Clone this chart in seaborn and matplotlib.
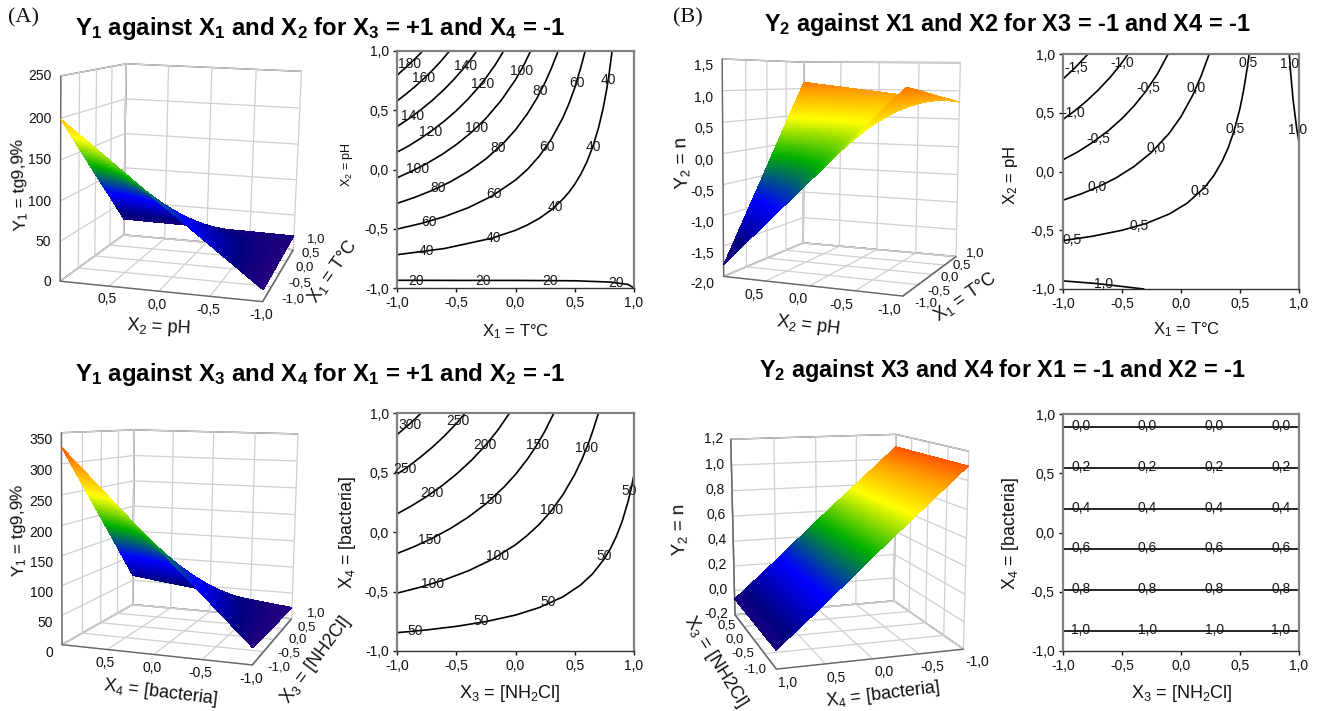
import numpy as np
import pandas as pd
import matplotlib
matplotlib.use('Agg')
import matplotlib.pyplot as plt
import seaborn as sns
from matplotlib.colors import LinearSegmentedColormap, Normalize

sns.set_theme(style='white')
plt.rcParams['font.family'] = ['Liberation Sans', 'DejaVu Sans']
plt.rcParams['mathtext.default'] = 'regular'
plt.rcParams['axes.unicode_minus'] = False

W, H = 1319, 711
ticks5 = [-1.0, -0.5, 0.0, 0.5, 1.0]
ticks5_lab = ['-1,0', '-0,5', '0,0', '0,5', '1,0']

# surface values, rows = second factor, columns = first factor
a1_z = [[14, 15.5, 17, 18.5, 20],
        [60, 50, 41, 31, 21],
        [106, 85, 64, 43, 22],
        [153, 120, 88, 55, 23],
        [199, 155, 111, 68, 24]]
b1_z = [[1.10, 1.03, 0.95, 0.88, 0.80],
        [0.37, 0.50, 0.63, 0.75, 0.88],
        [-0.36, -0.03, 0.30, 0.63, 0.96],
        [-1.08, -0.55, -0.02, 0.51, 1.04],
        [-1.81, -1.08, -0.35, 0.39, 1.12]]
a2_z = [[27, 26, 24, 23, 22],
        [102, 84, 67, 49, 31],
        [177, 143, 109, 75, 41],
        [252, 202, 151, 101, 50],
        [327, 260, 194, 127, 60]]
b2_z = [[1.10, 1.10, 1.10, 1.10, 1.10],
        [0.81, 0.81, 0.81, 0.81, 0.81],
        [0.52, 0.52, 0.52, 0.52, 0.52],
        [0.22, 0.22, 0.22, 0.22, 0.22],
        [-0.07, -0.07, -0.07, -0.07, -0.07]]

# contour lines
a1_x = [[-1, -0.9, -0.8, -0.784],
        [-1, -0.93, -0.85, -0.77, -0.7, -0.63, -0.557],
        [-1, -0.9, -0.8, -0.7, -0.6, -0.52, -0.45, -0.38, -0.327],
        [-1, -0.9, -0.8, -0.7, -0.6, -0.5, -0.4, -0.32, -0.25, -0.17, -0.1],
        [-1, -0.875, -0.75, -0.62, -0.5, -0.37, -0.25, -0.12, 0, 0.06, 0.128],
        [-1, -0.85, -0.7, -0.55, -0.4, -0.25, -0.1, 0, 0.1, 0.18, 0.25, 0.3, 0.36],
        [-1, -0.8, -0.6, -0.4, -0.2, 0, 0.1, 0.2, 0.3, 0.4, 0.45, 0.5, 0.55, 0.588],
        [-1, -0.6, -0.2, 0, 0.1, 0.2, 0.3, 0.4, 0.45, 0.5, 0.55, 0.6, 0.65, 0.7, 0.74, 0.77, 0.79, 0.815],
        [-1, -0.5, 0, 0.5, 0.8, 0.95, 1]]
a1_y = [[0.795, 0.884, 0.982, 1],
        [0.578, 0.632, 0.698, 0.77, 0.839, 0.913, 1],
        [0.362, 0.429, 0.503, 0.585, 0.678, 0.76, 0.84, 0.927, 1],
        [0.146, 0.2, 0.263, 0.332, 0.409, 0.496, 0.595, 0.685, 0.773, 0.885, 1],
        [-0.07, -0.014, 0.05, 0.127, 0.21, 0.315, 0.431, 0.584, 0.758, 0.861, 1],
        [-0.286, -0.235, -0.175, -0.104, -0.017, 0.089, 0.224, 0.335, 0.47, 0.6, 0.735, 0.848, 1],
        [-0.503, -0.456, -0.398, -0.323, -0.225, -0.089, 0, 0.112, 0.253, 0.437, 0.553, 0.69, 0.857, 1],
        [-0.719, -0.667, -0.58, -0.513, -0.468, -0.413, -0.342, -0.25, -0.193, -0.124, -0.042, 0.059, 0.186, 0.349, 0.519, 0.68, 0.808, 1],
        [-0.935, -0.936, -0.936, -0.939, -0.95, -0.97, -1]]
a1_lab = ['180', '160', '140', '140', '120', '120', '100', '100', '100', '80', '80', '80',
          '60', '60', '60', '60', '40', '40', '40', '40', '40', '20', '20', '20', '20']
a1_lab_x = [-0.89, -0.78, -0.42, -0.865, -0.72, -0.28, -0.826, -0.327, 0.052, -0.65, -0.15, 0.21,
            -0.733, -0.178, 0.262, 0.515, -0.756, -0.19, 0.338, 0.655, 0.78, -0.84, -0.275, 0.29, 0.85]
a1_lab_y = [0.89, 0.775, 0.87, 0.45, 0.318, 0.725, 0.004, 0.346, 0.83, -0.153, 0.178, 0.66,
            -0.44, -0.21, 0.19, 0.73, -0.69, -0.58, -0.313, 0.19, 0.753, -0.94, -0.94, -0.945, -0.955]

b1_x = [[-1, -0.9, -0.788],
        [-1, -0.9, -0.8, -0.7, -0.6, -0.52, -0.448],
        [-1, -0.875, -0.75, -0.62, -0.5, -0.4, -0.3, -0.2, -0.109],
        [-1, -0.85, -0.7, -0.55, -0.4, -0.25, -0.1, 0, 0.1, 0.17, 0.239],
        [-1, -0.75, -0.5, -0.3, -0.1, 0.05, 0.2, 0.28, 0.35, 0.4, 0.45, 0.5, 0.53, 0.56, 0.578],
        [-1, -0.7, -0.315],
        [1, 0.98, 0.95, 0.93, 0.918]]
b1_y = [[0.787, 0.881, 1],
        [0.443, 0.517, 0.6, 0.695, 0.802, 0.9, 1],
        [0.1, 0.167, 0.247, 0.344, 0.451, 0.556, 0.68, 0.83, 1],
        [-0.244, -0.192, -0.13, -0.054, 0.041, 0.163, 0.325, 0.467, 0.65, 0.812, 1],
        [-0.588, -0.551, -0.5, -0.444, -0.362, -0.271, -0.136, -0.032, 0.09, 0.202, 0.346, 0.539, 0.688, 0.874, 1],
        [-0.931, -0.955, -1],
        [0.25, 0.37, 0.61, 0.83, 1]]
b1_lab = ['-1,5', '-1,0', '-1,0', '-0,5', '-0,5', '0,0', '0,0', '0,0',
          '0,5', '0,5', '0,5', '0,5', '0,5', '1,0', '1,0', '1,0']
b1_lab_x = [-0.887, -0.496, -0.91, -0.276, -0.703, 0.13, -0.208, -0.709,
            0.57, 0.457, 0.166, -0.358, -0.92, 0.924, 0.99, -0.655]
b1_lab_y = [0.884, 0.92, 0.496, 0.708, 0.278, 0.708, 0.2, -0.136,
            0.92, 0.36, -0.17, -0.46, -0.58, 0.915, 0.355, -0.96]

a2_x = [[-1, -0.9, -0.795],
        [-1, -0.9, -0.8, -0.7, -0.6, -0.5, -0.425],
        [-1, -0.875, -0.75, -0.62, -0.5, -0.37, -0.25, -0.15, -0.05],
        [-1, -0.85, -0.7, -0.55, -0.4, -0.25, -0.1, 0, 0.1, 0.18, 0.25, 0.324],
        [-1, -0.8, -0.6, -0.4, -0.2, 0, 0.1, 0.2, 0.3, 0.4, 0.5, 0.56, 0.62, 0.66, 0.7],
        [-1, -0.75, -0.5, -0.25, 0, 0.2, 0.4, 0.55, 0.65, 0.75, 0.8, 0.85, 0.9, 0.95, 0.975, 1]]
a2_y = [[0.818, 0.902, 1],
        [0.485, 0.554, 0.631, 0.714, 0.807, 0.91, 1],
        [0.152, 0.221, 0.298, 0.389, 0.485, 0.604, 0.732, 0.855, 1],
        [-0.181, -0.121, -0.051, 0.029, 0.124, 0.237, 0.375, 0.484, 0.612, 0.731, 0.851, 1],
        [-0.514, -0.463, -0.402, -0.327, -0.232, -0.107, -0.028, 0.064, 0.176, 0.313, 0.484, 0.609, 0.757, 0.872, 1],
        [-0.846, -0.823, -0.793, -0.753, -0.698, -0.635, -0.545, -0.445, -0.352, -0.225, -0.141, -0.039, 0.09, 0.256, 0.361, 0.481]]
a2_lab = ['300', '250', '250', '200', '200', '150', '150', '150',
          '100', '100', '100', '100', '50', '50', '50', '50', '50']
a2_lab_x = [-0.894, -0.482, -0.93, -0.258, -0.706, 0.182, -0.21, -0.725,
            0.597, 0.305, -0.154, -0.70, 0.963, 0.745, 0.28, -0.286, -0.846]
a2_lab_y = [0.902, 0.93, 0.532, 0.728, 0.328, 0.728, 0.272, -0.064,
            0.706, 0.188, -0.2, -0.434, 0.342, -0.205, -0.588, -0.75, -0.832]

b2_x = [[-1, 1], [-1, 1], [-1, 1], [-1, 1], [-1, 1], [-1, 1]]
b2_y = [[0.887, 0.887], [0.546, 0.546], [0.202, 0.202],
        [-0.142, -0.142], [-0.484, -0.484], [-0.828, -0.828]]
b2_lab = ['0,0'] * 4 + ['0,2'] * 4 + ['0,4'] * 4 + ['0,6'] * 4 + ['0,8'] * 4 + ['1,0'] * 4
b2_lab_x = [-0.85, -0.284, 0.281, 0.847] * 6
b2_lab_y = [0.895] * 4 + [0.555] * 4 + [0.21] * 4 + [-0.135] * 4 + [-0.475] * 4 + [-0.82] * 4

a_zt = [0, 50, 100, 150, 200, 250]
a_zt_lab = ['0', '50', '100', '150', '200', '250']
a2_zt = [0, 50, 100, 150, 200, 250, 300, 350]
a2_zt_lab = ['0', '50', '100', '150', '200', '250', '300', '350']
b1_zt = [-2, -1.5, -1, -0.5, 0, 0.5, 1, 1.5]
b1_zt_lab = ['-2,0', '-1,5', '-1,0', '-0,5', '0,0', '0,5', '1,0', '1,5']
b2_zt = [-0.2, 0, 0.2, 0.4, 0.6, 0.8, 1.0, 1.2]
b2_zt_lab = ['-0,2', '0,0', '0,2', '0,4', '0,6', '0,8', '1,0', '1,2']

rainbow = LinearSegmentedColormap.from_list('surf', [
    (0.0, '#2a007f'), (0.05, '#2a007f'), (0.15, '#00007f'), (0.32, '#0000ff'),
    (0.52, '#00b000'), (0.70, '#ffff00'), (0.85, '#ff9900'), (1.0, '#ff2000')])

fig = plt.figure(figsize=(W / 100, H / 100), dpi=100)


def px_text(x, y, s, **kw):
    kw.setdefault('ha', 'center')
    kw.setdefault('va', 'center')
    kw.setdefault('color', '#111111')
    fig.text(x / W, 1 - y / H, s, **kw)


def refine(z, n=90):
    # subdivide the read grid only so the colour ramp renders smoothly
    z = np.array(z, dtype=float)
    coarse = np.array(ticks5)
    fine = np.linspace(-1, 1, n)
    cols = np.array([np.interp(fine, coarse, row) for row in z])
    return fine, np.array([np.interp(fine, coarse, c) for c in cols.T]).T


def surface(cx, cy, size, z, zlim, zt, zt_lab, elev, azim, roll, focal, ylabs, zh,
            zpos='default', yha='center', zva='top'):
    ax = fig.add_axes([(cx - size / 2) / W, 1 - (cy + size / 2) / H, size / W, size / H],
                      projection='3d')
    ax.patch.set_visible(False)
    fine, zf = refine(z)
    X, Y = np.meshgrid(fine, fine)
    colors = rainbow(Normalize(*zlim)(zf))
    ax.plot_surface(X, Y, zf, facecolors=colors, rstride=1, cstride=1, linewidth=0,
                    antialiased=False, shade=False)
    ax.set_xlim(-1, 1, view_margin=0)
    ax.set_ylim(-1, 1, view_margin=0)
    ax.set_zlim(*zlim, view_margin=0)
    ax.set_proj_type('persp', focal_length=focal)
    ax.view_init(elev=elev, azim=azim, roll=roll)
    ax.set_box_aspect((1, 1, zh))
    ax.set_xticks(ticks5, labels=[''] * 5)
    ax.set_yticks(ticks5, labels=ylabs)
    ax.set_zticks(zt, labels=zt_lab)
    ax.zaxis.set_ticks_position(zpos)
    for axis, pad in zip((ax.xaxis, ax.yaxis, ax.zaxis), (0, -5, -4)):
        axis.set_pane_color((1, 1, 1, 1))
        axis.pane.set_edgecolor('#555555')
        axis.pane.set_linewidth(1.0)
        axis.line.set_color('#666666')
        axis.line.set_linewidth(1.0)
        axis._axinfo['grid'].update(color='#cfcfcf', linewidth=0.9)
        axis._axinfo['tick'].update(inward_factor=0, outward_factor=0)
        axis.set_tick_params(pad=pad, labelsize=10, colors='#111111')
    for lab in ax.get_zticklabels():
        lab.set_horizontalalignment('right')
        lab.set_verticalalignment(zva)
    for lab in ax.get_yticklabels():
        lab.set_horizontalalignment(yha)
    return ax


def contours(x0, x1, y0, y1, xs, ys, lab, lab_x, lab_y):
    ax = fig.add_axes([x0 / W, 1 - y1 / H, (x1 - x0) / W, (y1 - y0) / H])
    rows = [(i, a, b) for i, (lx, ly) in enumerate(zip(xs, ys)) for a, b in zip(lx, ly)]
    df = pd.DataFrame(rows, columns=['line', 'x', 'y'])
    sns.lineplot(data=df, x='x', y='y', units='line', estimator=None, sort=False,
                 color='black', linewidth=1.2, legend=False, ax=ax)
    for s, a, b in zip(lab, lab_x, lab_y):
        ax.text(a, b, s, ha='center', va='center', fontsize=10, color='#1a1a1a')
    ax.set_xlim(-1, 1)
    ax.set_ylim(-1, 1)
    ax.set_xlabel('')
    ax.set_ylabel('')
    ax.set_xticks(ticks5, labels=ticks5_lab)
    ax.set_yticks(ticks5, labels=ticks5_lab)
    ax.tick_params(length=3, width=1, pad=3, labelsize=10, colors='#111111', left=True, bottom=True)
    for name, spine in ax.spines.items():
        spine.set_visible(True)
        spine.set_color('#333333' if name == 'bottom' else '#808080')
        spine.set_linewidth(1.0 if name == 'bottom' else 1.6)
    return ax


no_top = ['-1,0', '-0,5', '0,0', '0,5', '']

surface(183, 175, 326, a1_z, (0, 250), a_zt, a_zt_lab, 10, 194, -1.5, 0.55, no_top, 1.0, zva='center')
surface(843, 169, 318, b1_z, (-2, 1.5), b1_zt, b1_zt_lab, 6, 202, -0.5, 0.5, no_top, 1.145, yha='right')
surface(182, 538, 319, a2_z, (0, 350), a2_zt, a2_zt_lab, 8, 197.5, -1, 0.5, no_top, 1.08)
surface(838, 544, 313, b2_z, (-0.2, 1.2), b2_zt, b2_zt_lab, 11.5, 162, 0, 0.55, ticks5_lab, 1.03,
        zpos='upper', yha='left', zva='center')

contours(397, 634, 51, 288, a1_x, a1_y, a1_lab, a1_lab_x, a1_lab_y)
contours(1063, 1299, 54, 289, b1_x, b1_y, b1_lab, b1_lab_x, b1_lab_y)
contours(397, 634, 413, 651, a2_x, a2_y, a2_lab, a2_lab_x, a2_lab_y)
contours(1063, 1299, 414, 651, b2_x, b2_y, b2_lab, b2_lab_x, b2_lab_y)

# tick labels of the depth axes sit beside the edge, not below it
for s, x, y in zip(ticks5_lab[::-1], [316, 311, 305, 300, 293], [240, 254, 268, 283, 300]):
    px_text(x, y, s, fontsize=9.5)
for s, x, y in zip(ticks5_lab[::-1], [975, 962, 950, 939, 926], [254, 266, 278, 291, 303]):
    px_text(x, y, s, fontsize=9.5)
for s, x, y in zip(ticks5_lab[::-1], [316, 307, 298, 289, 279], [614, 627, 640, 653, 667]):
    px_text(x, y, s, fontsize=9.5)
for s, x, y in zip(ticks5_lab[-2::-1], [727, 735, 743, 755], [626, 639, 654, 670]):
    px_text(x, y, s, fontsize=9.5)

# titles and panel letters
t_kw = dict(fontweight='bold', color='black')
px_text(320, 28, 'Y$_1$ against X$_1$ and X$_2$ for X$_3$ = +1 and X$_4$ = -1', fontsize=17.3, **t_kw)
px_text(1007, 25, 'Y$_2$ against X1 and X2 for X3 = -1 and X4 = -1', fontsize=16.9, **t_kw)
px_text(320, 375, 'Y$_1$ against X$_3$ and X$_4$ for X$_1$ = +1 and X$_2$ = -1', fontsize=17.3, **t_kw)
px_text(1002, 371, 'Y$_2$ against X3 and X4 for X1 = -1 and X2 = -1', fontsize=16.9, **t_kw)
px_text(8, 18, '(A)', family='Liberation Serif', fontsize=16, ha='left')
px_text(673, 18, '(B)', family='Liberation Serif', fontsize=16, ha='left')

# axis titles
l_kw = dict(fontsize=13)
px_text(158, 327, 'X$_2$ = pH', rotation=-3, **l_kw)
px_text(333, 272, 'X$_1$ = T°C', rotation=55, **l_kw)
px_text(20, 185, 'Y$_1$ = tg9,9%', rotation=92, fontsize=12.4)
px_text(516, 332, 'X$_1$ = T°C', fontsize=12)
px_text(347, 165, 'X$_2$ = pH', rotation=90, fontsize=9)

px_text(808, 325, 'X$_2$ = pH', rotation=-7, **l_kw)
px_text(965, 297, 'X$_1$ = T°C', rotation=35, **l_kw)
px_text(682, 163, 'Y$_2$ = n', rotation=92, fontsize=13.5)
px_text(1187, 330, 'X$_1$ = T°C', fontsize=12)
px_text(1010, 175, 'X$_2$ = pH', rotation=90, fontsize=12)

px_text(160, 693, 'X$_4$ = [bacteria]', rotation=-7, **l_kw)
px_text(316, 660, 'X$_3$ = [NH2Cl]', rotation=53, **l_kw)
px_text(19, 530, 'Y$_1$ = tg9,9%', rotation=91, fontsize=12.4)
px_text(510, 693, 'X$_3$ = [NH$_2$Cl]', **l_kw)
px_text(347, 532, 'X$_4$ = [bacteria]', rotation=90, fontsize=12.8)

px_text(883, 695, 'X$_4$ = [bacteria]', rotation=7, **l_kw)
px_text(715, 662, 'X$_3$ = [NH2Cl]', rotation=-58, **l_kw)
px_text(680, 530, 'Y$_2$ = n', rotation=91, fontsize=13.5)
px_text(1182, 693, 'X$_3$ = [NH$_2$Cl]', **l_kw)
px_text(1010, 533, 'X$_4$ = [bacteria]', rotation=90, fontsize=12.8)

fig.savefig('out.png', dpi=100)
